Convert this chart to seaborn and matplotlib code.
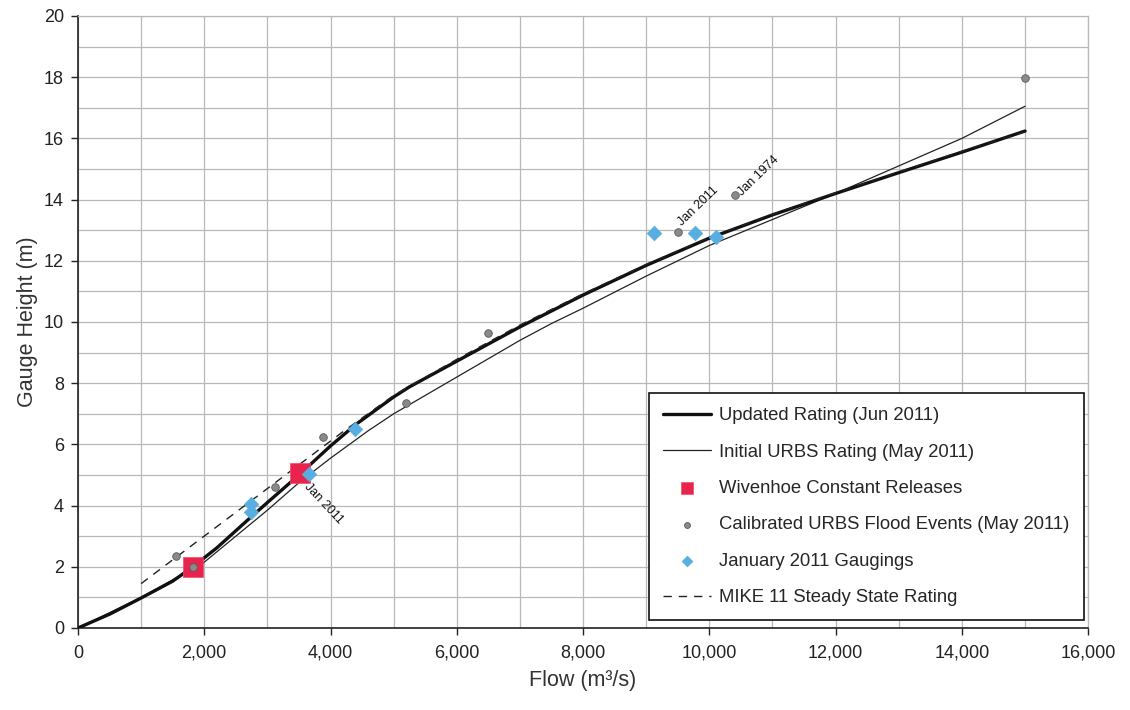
import matplotlib
matplotlib.use("Agg")
import matplotlib.pyplot as plt
import seaborn as sns
import pandas as pd
import numpy as np
from matplotlib.ticker import MultipleLocator, FuncFormatter

# ---- data ----
upd_flow = [0, 500, 1000, 1500, 1820, 2200, 2700, 3000, 3500, 4000, 4400, 5000, 5250, 6000, 7000, 8000, 9000, 10000, 11000, 12000, 13000, 14000, 15000]
upd_h = [0, 0.45, 0.98, 1.53, 2.0, 2.62, 3.55, 4.1, 5.0, 5.95, 6.65, 7.55, 7.88, 8.72, 9.84, 10.88, 11.85, 12.74, 13.5, 14.2, 14.88, 15.55, 16.24]

init_flow = [0, 1000, 2000, 3000, 3500, 4000, 4600, 5000, 6000, 7000, 7500, 8000, 9000, 10000, 11000, 12000, 13000, 14000, 15000]
init_h = [0, 1.0, 2.15, 3.85, 4.75, 5.55, 6.45, 7.0, 8.2, 9.4, 9.95, 10.45, 11.5, 12.5, 13.35, 14.2, 15.1, 16.0, 17.05]

mike_flow = [1000, 4200, 5000, 6000, 7000, 8000, 9000, 10000, 11000, 12000, 13000, 14000, 15000]
mike_h = [1.45, 6.42, 7.6, 8.78, 9.9, 10.92, 11.88, 12.76, 13.52, 14.22, 14.9, 15.58, 16.22]

wiv_flow = [1820, 3520]
wiv_h = [2.0, 5.05]

urbs_flow = [1550, 1820, 3120, 3880, 5200, 6500, 9500, 10400, 15000]
urbs_h = [2.35, 2.0, 4.6, 6.24, 7.35, 9.64, 12.94, 14.15, 17.97]

gaug_flow = [2740, 2740, 3660, 4380, 9130, 9780, 10100]
gaug_h = [4.05, 3.78, 5.03, 6.5, 12.9, 12.9, 12.78]

labels = ["Updated Rating (Jun 2011)", "Initial URBS Rating (May 2011)",
          "Wivenhoe Constant Releases", "Calibrated URBS Flood Events (May 2011)",
          "January 2011 Gaugings", "MIKE 11 Steady State Rating"]

sns.set_theme(style="white")
plt.rcParams['font.family'] = ['Liberation Sans', 'DejaVu Sans']

fig = plt.figure(figsize=(11.3, 7.1), dpi=100)
ax = fig.add_axes([0.069, 0.1155, 0.894, 0.862])

grid_c = "#b8b8b8"
ax.xaxis.set_minor_locator(MultipleLocator(1000))
ax.yaxis.set_minor_locator(MultipleLocator(1))
ax.xaxis.set_major_locator(MultipleLocator(2000))
ax.yaxis.set_major_locator(MultipleLocator(2))
ax.grid(True, which="both", color=grid_c, linewidth=0.9)
ax.set_axisbelow(True)

sns.lineplot(x=upd_flow, y=upd_h, ax=ax, color="#111111", linewidth=2.4, label=labels[0], zorder=4)
sns.lineplot(x=init_flow, y=init_h, ax=ax, color="#222222", linewidth=0.9, label=labels[1], zorder=3)
sns.scatterplot(x=wiv_flow, y=wiv_h, ax=ax, marker="s", s=200, color="#e8244e", edgecolor="#f05060", linewidth=0.5, label=labels[2], zorder=5)
sns.scatterplot(x=urbs_flow, y=urbs_h, ax=ax, marker="o", s=30, color="#8a8a8a", edgecolor="#5a5a5a", linewidth=0.6, label=labels[3], zorder=6)
sns.scatterplot(x=gaug_flow, y=gaug_h, ax=ax, marker="D", s=55, color="#58aee0", edgecolor="#58aee0", linewidth=0.5, label=labels[4], zorder=6)
sns.lineplot(x=mike_flow, y=mike_h, ax=ax, color="#222222", linewidth=1.0, linestyle=(0, (6, 5)), label=labels[5], zorder=4)

ax.set_xlim(0, 16000)
ax.set_ylim(0, 20)
ax.xaxis.set_major_formatter(FuncFormatter(lambda v, p: f"{int(v):,}"))

for s in ["left", "bottom"]:
    ax.spines[s].set_color("#222222")
    ax.spines[s].set_linewidth(1.2)
for s in ["top", "right"]:
    ax.spines[s].set_color(grid_c)
    ax.spines[s].set_linewidth(0.9)

ax.tick_params(axis="both", which="major", direction="out", length=5, width=1, color="#222222",
               labelsize=13, labelcolor="#222222", bottom=True, left=True)
ax.tick_params(axis="x", which="major", pad=7)
ax.tick_params(axis="y", which="major", pad=5)
ax.tick_params(axis="both", which="minor", length=0)

ax.set_xlabel("Flow (m³/s)", fontsize=15.5, color="#333333", labelpad=6)
ax.set_ylabel("Gauge Height (m)", fontsize=15.5, color="#333333", labelpad=4)

ax.text(3680, 4.82, "Jan 2011", rotation=-47, fontsize=9, ha="left", va="top",
        rotation_mode="anchor", color="#111111", zorder=7)
ax.text(9600, 13.05, "Jan 2011", rotation=44, fontsize=9, ha="left", va="bottom",
        rotation_mode="anchor", color="#111111", zorder=7)
ax.text(10550, 14.05, "Jan 1974", rotation=44, fontsize=9, ha="left", va="bottom",
        rotation_mode="anchor", color="#111111", zorder=7)

leg = ax.legend(loc="lower right", bbox_to_anchor=(0.9955, 0.013), fontsize=13.3, frameon=True,
                fancybox=False, edgecolor="#111111", framealpha=1, labelspacing=1.05,
                handlelength=2.6, borderpad=0.75, handletextpad=0.45, borderaxespad=0)
leg.get_frame().set_linewidth(1.2)
leg.legend_handles[2].set_sizes([70])
leg.legend_handles[3].set_sizes([18])
leg.legend_handles[4].set_sizes([30])

fig.savefig("out.png", dpi=100)
